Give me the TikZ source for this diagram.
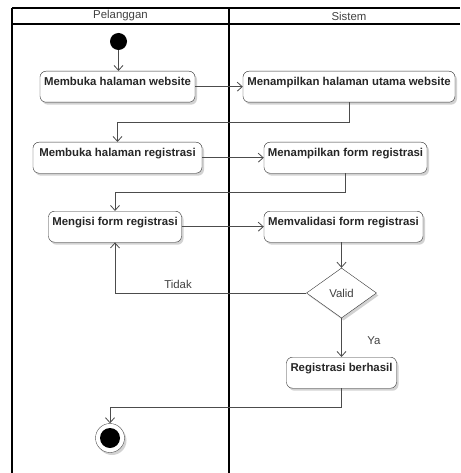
\documentclass[tikz,border=0pt]{standalone}
\usepackage{fontspec}
\setmainfont{Liberation Sans}
\usetikzlibrary{arrows.meta,shapes.geometric,shadows}

\begin{document}
\begin{tikzpicture}[x=1pt,y=-1pt,
    font=\fontsize{11.4}{13}\selectfont,
    lajur/.style={draw=black, line width=1.5pt},
    bayang/.style={drop shadow={shadow xshift=2pt,shadow yshift=-2.5pt,fill=black!35}},
    aksi/.style={draw=black!80, fill=white, rounded corners=6pt, anchor=north, bayang,
        font=\fontsize{11.4}{13}\selectfont\bfseries, text=black!85,
        inner xsep=2pt, inner ysep=6pt, text height=8.2pt, text depth=10.8pt},
    alur/.style={draw=black!70, line width=0.8pt, -{Straight Barb[length=5pt,width=9pt]}},
    ket/.style={text=black!75}]
    \useasboundingbox (0,0) rectangle (460,473);
    % swimlane
    \draw[lajur] (12,8) -- (460,8);
    \draw[lajur, line width=1.2pt] (12,24) -- (460,24);
    \draw[lajur] (12,8) -- (12,473);
    \draw[lajur] (229,8) -- (229,473);
    \node[ket] (pelanggan) at (120.5,16) {Pelanggan};
    \node[ket] (sistem) at (349,16) {Sistem};

    % aktivitas
    \node[circle, fill=black, minimum size=17pt, inner sep=0pt] (mulai) at (118.5,41.5) {};
    \node[aksi, minimum width=155pt] (b1) at (117.5,71) {Membuka halaman website};
    \node[aksi, minimum width=212pt] (b2) at (349,71) {Menampilkan halaman utama website};
    \node[aksi, minimum width=169pt] (b3) at (117.5,142) {Membuka halaman registrasi};
    \node[aksi, minimum width=163pt] (b4) at (345.5,142) {Menampilkan form registrasi};
    \node[aksi, minimum width=133pt] (b5) at (115,211) {Mengisi form registrasi};
    \node[aksi, minimum width=159pt] (b6) at (343.5,211) {Memvalidasi form registrasi};
    \node[diamond, draw=black!80, fill=white, bayang, minimum width=70pt, minimum height=50pt,
        inner sep=0pt, ket] (valid) at (341.5,293) {Valid};
    \node[aksi, minimum width=110pt] (b7) at (341.5,357) {Registrasi berhasil};
    \node[circle, draw=black!70, fill=white, bayang, minimum size=29pt, inner sep=0pt] (selesai) at (110,438) {};
    \fill[black] (selesai.center) circle (10pt);

    % alur
    \draw[alur] (mulai) -- (mulai |- b1.north);
    \draw[alur] (b1.east) -- (b2.west);
    \draw[alur] (b2.south) -- ++(0,20) -| (b3.north);
    \draw[alur] (b3.east) -- (b4.west);
    \draw[alur] (b4.south) -- ++(0,19) -| (b5.north);
    \draw[alur] (b5.east) -- (b6.west);
    \draw[alur] (b6.south -| valid) -- (valid.north);
    \draw[alur] (valid.west) -| (b5.south);
    \draw[alur] (valid.south) -- (b7.north);
    \draw[alur] (b7.south) -- ++(0,19) -| (selesai.north);
    \node[ket] (tidak) at (178,284) {Tidak};
    \node[ket] (ya) at (374,341) {Ya};
\end{tikzpicture}
\end{document}
